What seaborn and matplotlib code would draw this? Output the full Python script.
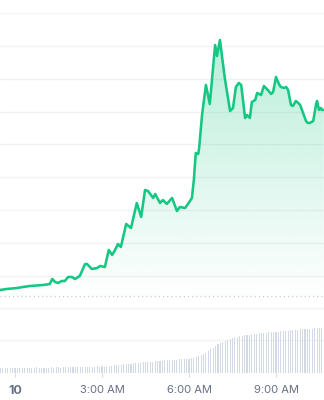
import numpy as np
import matplotlib
matplotlib.use("Agg")
import matplotlib.pyplot as plt
import seaborn as sns
from matplotlib.patches import PathPatch

# ---- data (minutes from midnight) ----
minutes = [-31, -17, 4, 17, 31, 58, 72, 77, 83, 89, 97, 103, 110, 118, 124, 134,
           145, 149, 159, 170, 176, 186, 194, 201, 207, 213, 219, 230, 240, 252,
           261, 269, 275, 286, 290, 300, 306, 314, 325, 335, 341, 352, 362, 366,
           370, 374, 379, 381, 387, 395, 403, 414, 418, 424, 434, 445, 451, 457,
           463, 468, 476, 480, 486, 490, 497, 501, 509, 515, 523, 530, 534, 540,
           546, 550, 557, 561, 565, 571, 575, 581, 586, 590, 596, 602, 606, 610,
           617, 623, 625, 629, 633, 635, 639]
price = [0.574, 0.605, 0.635, 0.666, 0.696, 0.726, 0.757, 0.909, 0.818, 0.787,
         0.848, 0.848, 0.970, 0.970, 0.909, 1.000,
         1.365, 1.365, 1.213, 1.243, 1.304, 1.274, 1.791, 1.639, 1.791, 1.973,
         1.882, 2.582, 2.460, 3.221,
         2.795, 3.616, 3.586, 3.373, 3.495, 3.221, 3.312, 3.190, 3.373, 2.977,
         3.099, 3.069, 3.282, 3.373,
         3.920, 4.741, 4.711, 4.894, 5.897, 6.810, 6.232, 8.026, 7.692, 8.179,
         7.023, 6.019, 6.110, 6.749,
         6.871, 6.810, 5.806, 5.897, 5.806, 6.293, 6.354, 6.567, 6.506, 6.779,
         6.658, 6.536, 6.597, 7.053,
         6.840, 6.749, 6.719, 6.749, 6.658, 6.202, 6.171, 6.323, 6.262, 6.202,
         5.958, 5.715, 5.654, 5.654,
         5.715, 6.232, 6.323, 6.050, 6.110, 6.050, 6.050]

vol_minutes = list(range(-30, 640, 5))
volume = [5, 5, 5, 5, 5, 5,
          5, 5, 5, 5, 5, 5, 5, 5, 5, 6, 5, 5,
          5, 5, 5, 6, 5, 6, 6, 5, 6, 6, 6, 6,
          6, 6, 6, 6, 6, 6, 6, 6, 6, 6, 7, 6,
          7, 6, 7, 7, 7, 8, 8, 8, 8, 9, 9, 9,
          9, 10, 10, 10, 10, 11, 11, 11, 11, 11, 12, 12,
          12, 12, 13, 13, 13, 13, 13, 13, 14, 14, 14, 14,
          14, 15, 15, 16, 17, 18, 19, 20, 22, 24, 25, 27,
          29, 30, 31, 32, 33, 34, 35, 35, 36, 37, 37, 38,
          38, 38, 39, 39, 39, 40, 40, 40, 40, 41, 41, 41,
          41, 41, 42, 42, 42, 42, 43, 43, 43, 43, 44, 44,
          44, 44, 44, 44, 45, 45, 45, 45]

tick_minutes = [0, 180, 360, 540]
tick_labels = ["10", "3:00 AM", "6:00 AM", "9:00 AM"]
open_price = 0.392
price_grid = [1, 2, 3, 4, 5, 6, 7, 8, 9]
volume_grid = [32.75, 65.5]

# ---- style ----
sns.set_style("white")
plt.rcParams["font.family"] = ["Inter", "DejaVu Sans"]

GREEN = "#16c784"
GRID = "#f1f2f4"
XMIN, XMAX = -31.03, 639.3
YMIN, YMAX = 0.27, 9.395

fig = plt.figure(figsize=(3.24, 4.0), dpi=100)
ax = fig.add_axes([0, 100 / 400, 1, 300 / 400])
axv = fig.add_axes([0, 27 / 400, 1, 73 / 400])

# price line
sns.lineplot(x=minutes, y=price, ax=ax, color=GREEN, linewidth=1.85, zorder=4)

# gradient fill under the line
poly = ax.fill_between(minutes, price, YMIN, facecolor="none", edgecolor="none")
path = poly.get_paths()[0]
grad = np.zeros((256, 1, 4))
grad[:, 0, 0] = 22 / 255
grad[:, 0, 1] = 199 / 255
grad[:, 0, 2] = 132 / 255
grad[:, 0, 3] = np.linspace(0.0, 0.30, 256)
im = ax.imshow(grad, extent=[XMIN, XMAX, YMIN, max(price)], aspect="auto",
               origin="lower", zorder=2, interpolation="bilinear")
im.set_clip_path(PathPatch(path, transform=ax.transData))

ax.axhline(open_price, color="#c3c7cf", lw=1.0, dashes=(0.8, 2.2), zorder=3)

ax.set_xlim(XMIN, XMAX)
ax.set_ylim(YMIN, YMAX)
ax.set_yticks(price_grid)
ax.grid(axis="y", color=GRID, lw=1.0)
ax.grid(axis="x", visible=False)
ax.set_axisbelow(True)
ax.tick_params(left=False, labelleft=False, bottom=False, labelbottom=False)
for s in ax.spines.values():
    s.set_visible(False)
ax.set_xlabel("")
ax.set_ylabel("")

# volume bars
sns.barplot(x=vol_minutes, y=volume, ax=axv, native_scale=True, color="#d3d9e5",
            saturation=1, width=0.45, linewidth=0, zorder=2)
axv.set_xlim(XMIN, XMAX)
axv.set_ylim(0, 73)
axv.set_yticks(volume_grid)
axv.grid(axis="y", color=GRID, lw=1.0)
axv.grid(axis="x", visible=False)
axv.set_axisbelow(True)
axv.set_xticks(tick_minutes)
axv.set_xticklabels(tick_labels)
axv.tick_params(left=False, labelleft=False, bottom=True, length=3, width=0.8,
                color="#d6dae2", pad=5.5, labelsize=8, labelcolor="#667085")
lbls = axv.get_xticklabels()
lbls[0].set_fontweight("bold")
lbls[0].set_fontsize(9)
for s in axv.spines.values():
    s.set_visible(False)
axv.set_xlabel("")
axv.set_ylabel("")

fig.savefig("out.png", dpi=100, facecolor="white")
